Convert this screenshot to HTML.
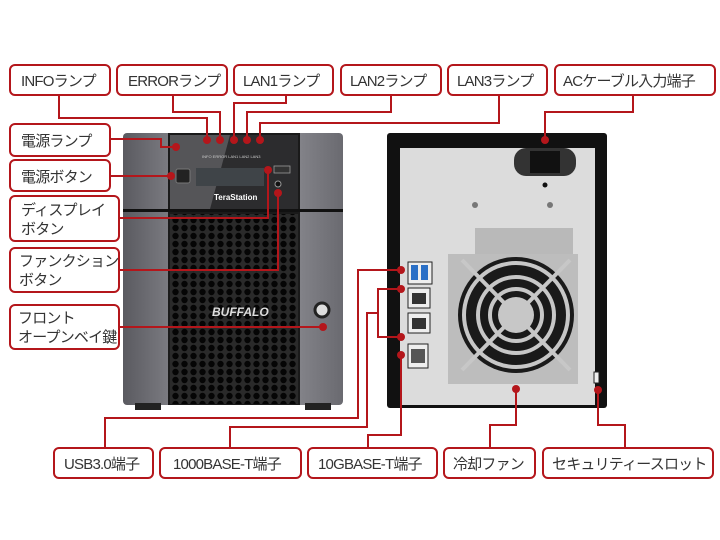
<!DOCTYPE html>
<html><head><meta charset="utf-8"><style>
html,body{margin:0;padding:0;background:#fff;width:720px;height:540px;overflow:hidden}
svg{display:block}
text{font-family:"Liberation Sans","Noto Sans CJK JP",sans-serif;font-size:15px;fill:#333;letter-spacing:-0.8px}
</style></head><body>
<svg width="720" height="540" viewBox="0 0 720 540" xmlns="http://www.w3.org/2000/svg">
<defs>
<linearGradient id="pil" x1="0" x2="1"><stop offset="0" stop-color="#5a5a60"/><stop offset=".5" stop-color="#a8a8ae"/><stop offset="1" stop-color="#6a6a70"/></linearGradient>
<pattern id="hex" width="9" height="8" patternUnits="userSpaceOnUse"><rect width="9" height="8" fill="#2a2a2a"/><circle cx="4.5" cy="4" r="3.2" fill="#050505"/></pattern>
</defs>
<!-- FRONT UNIT -->
<rect x="123" y="133" width="220" height="272" rx="4" fill="url(#pil)"/>
<rect x="168" y="133" width="132" height="272" fill="#1a1a1a"/>
<rect x="170" y="135" width="128" height="74" fill="#2c2c2e"/>
<polygon points="170,135 230,135 210,209 170,209" fill="#555558"/>
<rect x="123" y="209" width="220" height="3" fill="#111"/>
<rect x="170" y="214" width="128" height="190" fill="url(#hex)"/>
<rect x="196" y="168" width="68" height="18" fill="#3f4448"/>
<rect x="176" y="169" width="14" height="14" rx="2" fill="#222" stroke="#777" stroke-width="1"/>
<rect x="274" y="166" width="16" height="7" fill="#333" stroke="#999" stroke-width=".8"/>
<circle cx="278" cy="184" r="3" fill="#111" stroke="#999"/>
<text x="214" y="200" style="font-size:8px;fill:#fff;font-weight:bold;letter-spacing:0">TeraStation</text>
<text x="202" y="158" style="font-size:4px;fill:#ccc;letter-spacing:0">INFO ERROR LAN1 LAN2 LAN3</text>
<text x="212" y="316" style="font-size:12px;fill:#ddd;font-weight:bold;font-style:italic;letter-spacing:0">BUFFALO</text>
<circle cx="322" cy="310" r="7" fill="#ddd" stroke="#222" stroke-width="3"/>
<rect x="135" y="403" width="26" height="7" fill="#222"/><rect x="305" y="403" width="26" height="7" fill="#222"/>
<!-- REAR UNIT -->
<rect x="387" y="133" width="220" height="275" rx="3" fill="#111"/>
<polygon points="400,148 595,148 595,405 400,405" fill="#dcdcdc"/>
<rect x="514" y="148" width="62" height="28" rx="12" fill="#333"/>
<rect x="530" y="151" width="30" height="22" fill="#111"/>
<circle cx="545" cy="185" r="2.5" fill="#111"/>
<circle cx="475" cy="205" r="3" fill="#777"/><circle cx="550" cy="205" r="3" fill="#777"/>
<rect x="475" y="228" width="98" height="30" fill="#b9b9b9"/>
<rect x="448" y="254" width="130" height="130" fill="#bdbdbd"/>
<circle cx="516" cy="315" r="58" fill="#1a1a1a"/>
<g fill="none" stroke="#c7c7c7" stroke-width="4"><circle cx="516" cy="315" r="52"/><circle cx="516" cy="315" r="38"/><circle cx="516" cy="315" r="26"/><line x1="462" y1="260" x2="570" y2="370"/><line x1="570" y1="260" x2="462" y2="370"/></g>
<circle cx="516" cy="315" r="18" fill="#c7c7c7"/>
<rect x="408" y="262" width="24" height="22" fill="#eee" stroke="#222"/><rect x="411" y="265" width="7" height="15" fill="#2a6fc6"/><rect x="421" y="265" width="7" height="15" fill="#2a6fc6"/>
<rect x="408" y="288" width="22" height="20" fill="#eee" stroke="#222"/><rect x="412" y="293" width="14" height="11" fill="#333"/>
<rect x="408" y="313" width="22" height="20" fill="#eee" stroke="#222"/><rect x="412" y="318" width="14" height="11" fill="#333"/>
<rect x="408" y="344" width="20" height="24" fill="#eee" stroke="#222"/><rect x="411" y="349" width="14" height="14" fill="#555"/>
<rect x="594" y="372" width="5" height="11" fill="#eee" stroke="#222"/>
<!-- CONNECTORS -->
<g fill="none" stroke="#b4161b" stroke-width="2">
<polyline points="59,95 59,118 207,118 207,140"/>
<polyline points="173,95 173,112 220,112 220,140"/>
<polyline points="286,95 286,103 234,103 234,140"/>
<polyline points="391,95 391,112 247,112 247,140"/>
<polyline points="499,95 499,123 260,123 260,140"/>
<polyline points="633,95 633,112 545,112 545,140"/>
<polyline points="110,139 161,139 161,147 176,147"/>
<polyline points="110,176 171,176"/>
<polyline points="119,218 268,218 268,170"/>
<polyline points="119,270 278,270 278,193"/>
<polyline points="119,327 323,327"/>
<polyline points="401,270 358,270 358,418 105,418 105,448"/>
<polyline points="401,289 378,289 378,337 401,337"/>
<polyline points="378,313 367,313 367,427 230,427 230,448"/>
<polyline points="401,355 401,435 368,435 368,448"/>
<polyline points="516,389 516,425 490,425 490,448"/>
<polyline points="598,390 598,425 625,425 625,448"/>
</g>
<g fill="#b4161b">
<circle cx="207" cy="140" r="4"/><circle cx="220" cy="140" r="4"/><circle cx="234" cy="140" r="4"/><circle cx="247" cy="140" r="4"/><circle cx="260" cy="140" r="4"/><circle cx="545" cy="140" r="4"/>
<circle cx="176" cy="147" r="4"/><circle cx="171" cy="176" r="4"/><circle cx="268" cy="170" r="4"/><circle cx="278" cy="193" r="4"/><circle cx="323" cy="327" r="4"/>
<circle cx="401" cy="270" r="4"/><circle cx="401" cy="289" r="4"/><circle cx="401" cy="337" r="4"/><circle cx="401" cy="355" r="4"/><circle cx="516" cy="389" r="4"/><circle cx="598" cy="390" r="4"/>
</g>
<!-- LABELS -->
<g fill="#fff" stroke="#b4161b" stroke-width="2">
<rect x="10" y="65" width="100" height="30" rx="5"/><rect x="117" y="65" width="110" height="30" rx="5"/><rect x="234" y="65" width="99" height="30" rx="5"/><rect x="341" y="65" width="100" height="30" rx="5"/><rect x="448" y="65" width="99" height="30" rx="5"/><rect x="555" y="65" width="160" height="30" rx="5"/>
<rect x="10" y="124" width="100" height="32" rx="5"/><rect x="10" y="160" width="100" height="31" rx="5"/><rect x="10" y="196" width="109" height="45" rx="5"/><rect x="10" y="248" width="109" height="44" rx="5"/><rect x="10" y="305" width="109" height="44" rx="5"/>
<rect x="54" y="448" width="99" height="30" rx="5"/><rect x="160" y="448" width="141" height="30" rx="5"/><rect x="308" y="448" width="129" height="30" rx="5"/><rect x="444" y="448" width="91" height="30" rx="5"/><rect x="543" y="448" width="170" height="30" rx="5"/>
</g>
<g>
<text x="21" y="86">INFOランプ</text><text x="128" y="86">ERRORランプ</text><text x="243" y="86">LAN1ランプ</text><text x="350" y="86">LAN2ランプ</text><text x="457" y="86">LAN3ランプ</text><text x="563" y="86">ACケーブル入力端子</text>
<text x="21" y="146">電源ランプ</text><text x="21" y="182">電源ボタン</text>
<text x="21" y="215">ディスプレイ</text><text x="21" y="234">ボタン</text>
<text x="19" y="266">ファンクション</text><text x="19" y="285">ボタン</text>
<text x="18" y="323">フロント</text><text x="18" y="342">オープンベイ鍵</text>
<text x="64" y="469">USB3.0端子</text><text x="173" y="469">1000BASE-T端子</text><text x="318" y="469">10GBASE-T端子</text><text x="453" y="469">冷却ファン</text><text x="552" y="469">セキュリティースロット</text>
</g>
</svg>
</body></html>
